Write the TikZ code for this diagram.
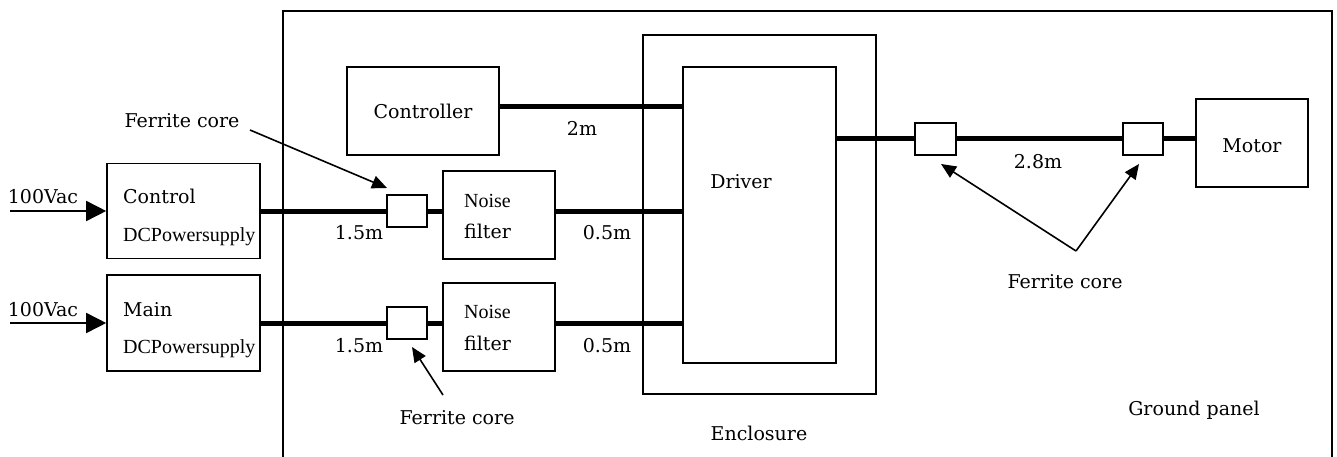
\documentclass[tikz,border=0pt]{standalone}
\usepackage{fontspec}
\setmainfont{DejaVu Serif}
\newfontfamily\narrowfont{Liberation Serif}
\usetikzlibrary{arrows.meta}
\begin{document}
\begin{tikzpicture}[x=1pt,y=-1pt,
  box/.style={draw,line width=1.6pt,fill=white,inner sep=0pt},
  cable/.style={line width=5pt},
  thin/.style={line width=1.6pt},
  lbl/.style={inner sep=0pt,anchor=base,font=\fontsize{19}{22}\selectfont},
  lblw/.style={inner sep=0pt,anchor=base west,font=\fontsize{19}{22}\selectfont},
  nlbl/.style={inner sep=0pt,anchor=base west,font=\fontsize{20}{22}\selectfont\narrowfont},
  inarrow/.style={line width=1.6pt,-{Triangle[length=20pt,width=20pt]}},
  ptr/.style={line width=1.6pt,-{Triangle[length=15pt,width=13pt]}}]
\useasboundingbox (0,0) rectangle (1337,457);
% ground panel
\draw[thin] (283,457) -- (283,11) -- (1332,11) -- (1332,457);
% enclosure and driver
\node[box,minimum width=233pt,minimum height=359pt] (enc) at (759.5,214.5) {};
\node[box,minimum width=153pt,minimum height=296pt] (drv) at (759.5,215) {};
\node[lbl] (drvt) at (741,188) {Driver};
% boxes
\node[box,minimum width=153pt,minimum height=95pt] (ctrlps) at (183.5,211) {};
\node[box,minimum width=153pt,minimum height=96pt] (mainps) at (183.5,323) {};
\node[box,minimum width=152pt,minimum height=88pt] (ctrl) at (423,111) {};
\node[box,minimum width=112pt,minimum height=88pt] (motor) at (1252,143) {};
% cables
\coordinate (cy) at (0,107);
\draw[cable] (ctrl.east |- cy) -- (drv.west |- cy);
\draw[cable] (ctrlps.east) -- (drv.west |- ctrlps.east);
\draw[cable] (mainps.east) -- (drv.west |- mainps.east);
\coordinate (my) at (0,139);
\draw[cable] (drv.east |- my) -- (motor.west |- my);
% noise filters and ferrite cores
\node[box,minimum width=112pt,minimum height=88pt] (nf1) at (499,215) {};
\node[box,minimum width=112pt,minimum height=88pt] (nf2) at (499,327) {};
\node[box,minimum width=40pt,minimum height=32pt] (fc1) at (407,211) {};
\node[box,minimum width=40pt,minimum height=32pt] (fc2) at (407,323) {};
\node[box,minimum width=41pt,minimum height=32pt] (fc3) at (935.5,139) {};
\node[box,minimum width=40pt,minimum height=32pt] (fc4) at (1143,139) {};
% input arrows
\coordinate (in1) at (10,211);
\coordinate (in2) at (10,323);
\draw[inarrow] (in1) -- (ctrlps.west);
\draw[inarrow] (in2) -- (mainps.west);
\node[lbl] (v1) at (43,203) {100Vac};
\node[lbl] (v2) at (43,316) {100Vac};
% box texts
\node[lblw] (t1) at (123,204) {Control};
\node[nlbl] (t2) at (123,241) {DCPowersupply};
\node[lblw] (t3) at (123,316) {Main};
\node[nlbl] (t4) at (123,353) {DCPowersupply};
\node[lbl] (t5) at (423,119) {Controller};
\node[lbl] (t6) at (1252,153) {Motor};
\node[nlbl] (n1a) at (464,207) {Noise};
\node[lblw] (n1b) at (464,238) {filter};
\node[nlbl] (n2a) at (464,318) {Noise};
\node[lblw] (n2b) at (464,350) {filter};
% lengths
\node[lbl] (l1) at (582,136) {2m};
\node[lbl] (l2) at (359,239) {1.5m};
\node[lbl] (l3) at (607,239) {0.5m};
\node[lbl] (l4) at (359,352) {1.5m};
\node[lbl] (l5) at (607,352) {0.5m};
\node[lbl] (l6) at (1038,168) {2.8m};
% ferrite labels and pointers
\node[lbl] (f1) at (182,128) {Ferrite core};
\coordinate (f1s) at (250,130);
\coordinate (f1e) at (387,188);
\draw[ptr] (f1s) -- (f1e);
\node[lbl] (f2) at (457,424) {Ferrite core};
\coordinate (f2s) at (443,395);
\coordinate (f2e) at (412,347);
\draw[ptr] (f2s) -- (f2e);
\node[lbl] (f3) at (1065,288) {Ferrite core};
\coordinate (f3s) at (1076,251);
\coordinate (f3a) at (941,164);
\coordinate (f3b) at (1139,164);
\draw[ptr] (f3s) -- (f3a);
\draw[ptr] (f3s) -- (f3b);
% region labels
\node[lbl] (encl) at (759,440) {Enclosure};
\node[lbl] (gp) at (1194,415) {Ground panel};
\end{tikzpicture}
\end{document}
